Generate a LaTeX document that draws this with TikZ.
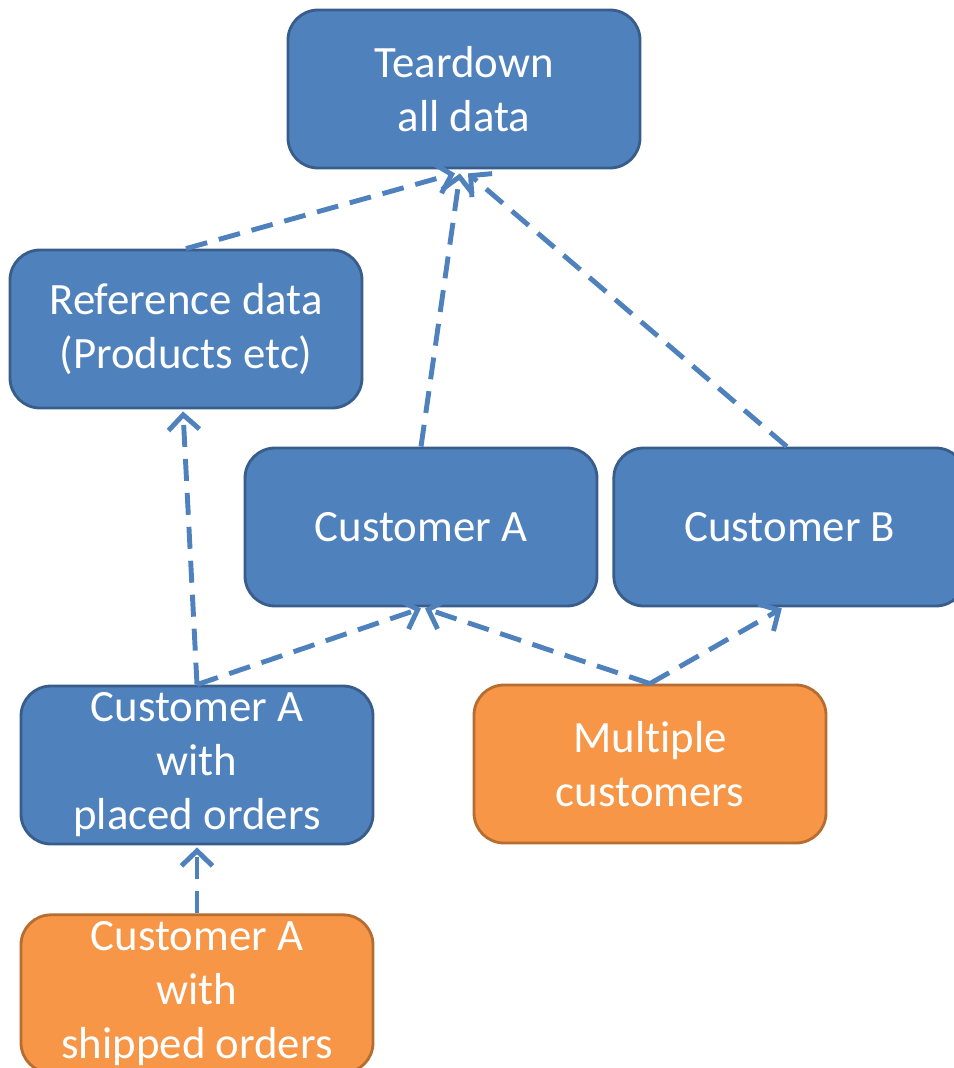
\documentclass[tikz,border=0pt]{standalone}
\usepackage{fontspec}
\setmainfont[Ligatures=NoCommon]{Carlito}
\usepackage{tikz}
\usetikzlibrary{arrows.meta, positioning, calc}
\definecolor{OfficeBlue}{HTML}{4F81BD}
\definecolor{OfficeBlueDark}{HTML}{385D8A}
\definecolor{OfficeOrange}{HTML}{F79646}
\definecolor{OfficeOrangeDark}{HTML}{B66D31}
\tikzset{
  bluebox/.style={rectangle, rounded corners=0.6cm, draw=OfficeBlueDark, fill=OfficeBlue, line width=1.6pt, text=white, minimum width=7.04cm, minimum height=3.16cm, font=\fontsize{25.5}{30.7}\selectfont, align=center},
  orangebox/.style={bluebox, draw=OfficeOrangeDark, fill=OfficeOrange},
  dashedarrow/.style={-{Straight Barb[length=0.3cm, width=0.62cm, line width=2.8pt]}, line width=2.8pt, OfficeBlue, dash pattern=on 0.44cm off 0.24cm}
}
\begin{document}
\begin{tikzpicture}
  \useasboundingbox (0,0) rectangle (19.08,-21.36);

  \node[bluebox] (teardown) at (9.28,-1.78) {Teardown\\all data};
  \node[bluebox] (refdata) at (3.72,-6.58) {Reference data\\(Products etc)};
  \node[bluebox] (custA) at (8.42,-10.54) {Customer A};
  \node[bluebox, right=0.28cm of custA] (custB) {Customer B};

  \node[bluebox] (placed) at (3.94,-15.30) {Customer A\\with\\placed orders};
  \node[orangebox] (multi) at (13.00,-15.28) {Multiple\\customers};
  \node[orangebox, below=1.36cm of placed] (shipped) {Customer A\\with\\shipped orders};

  % dependencies
  \draw[dashedarrow] (refdata.north) -- ([xshift=-0.18cm, yshift=-0.08cm]teardown.south);
  \draw[dashedarrow] (custA.north) -- ([xshift=-0.08cm, yshift=-0.08cm]teardown.south);
  \draw[dashedarrow] ([xshift=-0.06cm]custB.north) -- ([xshift=0.08cm, yshift=-0.08cm]teardown.south);
  \draw[dashedarrow] (placed.north) -- ([xshift=-0.06cm, yshift=-0.04cm]refdata.south);
  \draw[dashedarrow] (placed.north) -- ([yshift=-0.02cm]custA.south);
  \draw[dashedarrow] (multi.north) -- ([xshift=0.08cm, yshift=-0.02cm]custA.south);
  \draw[dashedarrow] (multi.north) -- ([xshift=-0.16cm, yshift=-0.02cm]custB.south);
  \draw[dashedarrow] (shipped.north) -- ([yshift=-0.04cm]placed.south);
\end{tikzpicture}
\end{document}
